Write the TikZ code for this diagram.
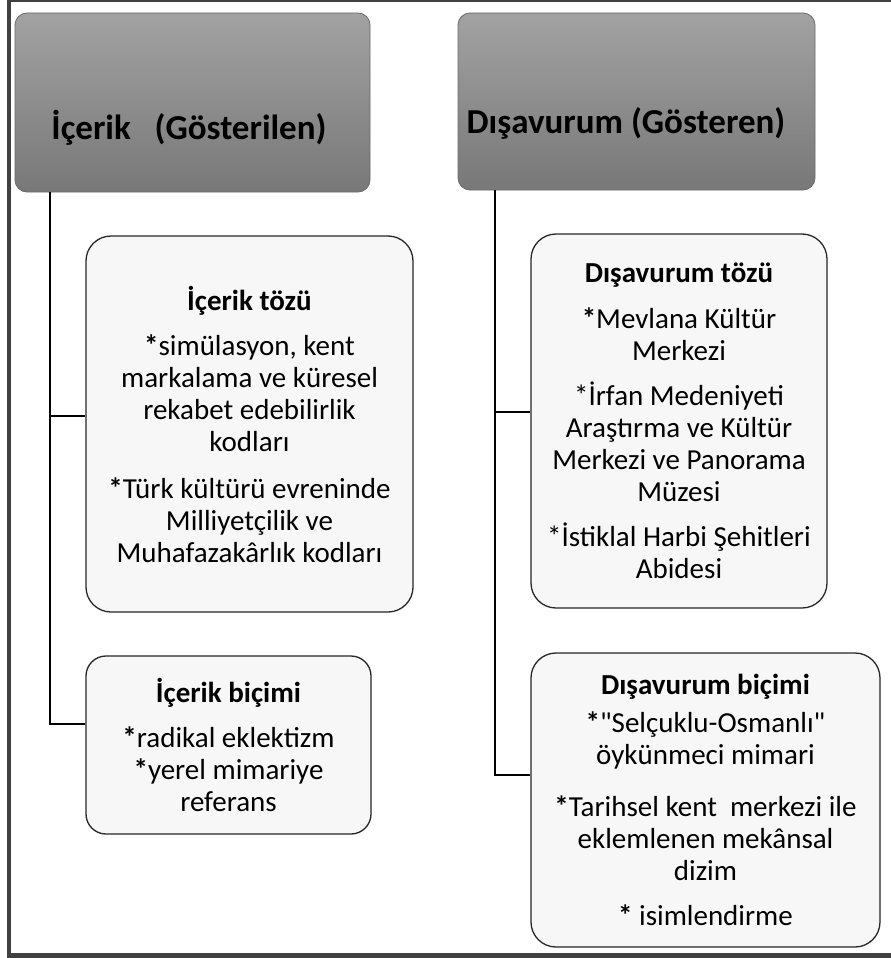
\documentclass[tikz,border=0pt]{standalone}
\usepackage{fontspec}
\setmainfont{Carlito}[Ligatures=TeXOff]
\definecolor{framecol}{HTML}{404040}
\definecolor{hdrtop}{HTML}{A2A2A2}
\definecolor{hdrbot}{HTML}{787878}
\definecolor{hdrline}{HTML}{6A6A6A}
\definecolor{boxfill}{HTML}{F7F7F7}
\definecolor{boxline}{HTML}{262626}
\begin{document}
\begin{tikzpicture}[x=1pt,y=-1pt,
  hdr/.style={draw=hdrline, line width=0.8pt, rounded corners=12pt, top color=hdrtop, bottom color=hdrbot, inner sep=0pt},
  hdrtext/.style={font=\fontsize{35}{40}\selectfont\bfseries, inner sep=0pt},
  cbox/.style={draw=boxline, line width=1.3pt, fill=boxfill, inner sep=0pt, align=center, font=\fontsize{29}{32}\selectfont},
  conn/.style={draw=black, line width=1.9pt}]
\useasboundingbox (0,0) rectangle (891,958);
\begin{scope}
\clip (0,0) rectangle (891,958);
\draw[framecol, line width=4.5pt] (9,0) rectangle (900,955.5);
\end{scope}
% headers
\node[hdr, minimum width=355pt, minimum height=179pt] (h1) at (192.5,102.5) {};
\node[hdrtext] (t1) at (189,128) {İçerik \ \ (Gösterilen)};
\node[hdr, minimum width=357pt, minimum height=177pt] (h2) at (636.5,101.5) {};
\node[hdrtext] (t2) at (626,123) {Dışavurum (Gösteren)};
% content boxes
\node[cbox, rounded corners=25pt, minimum width=327pt, minimum height=376pt] (b1) at (249.5,424)
 {\textbf{İçerik tözü}\\[13pt]
  \textbf{*}simülasyon, kent\\
  markalama ve küresel\\
  rekabet edebilirlik\\
  kodları\\[15pt]
  \textbf{*}Türk kültürü evreninde\\
  Milliyetçilik ve\\
  Muhafazakârlık kodları};
\node[cbox, rounded corners=20pt, minimum width=285pt, minimum height=178pt] (b2) at (228.5,745)
 {\textbf{İçerik biçimi}\\[13pt]
  \textbf{*}radikal eklektizm\\
  \textbf{*}yerel mimariye\\
  referans};
\node[cbox, rounded corners=25pt, minimum width=296pt, minimum height=374pt] (b3) at (679,421)
 {\textbf{Dışavurum tözü}\\[14pt]
  \textbf{*}Mevlana Kültür\\
  Merkezi\\[13pt]
  *İrfan Medeniyeti\\
  Araştırma ve Kültür\\
  Merkezi ve Panorama\\
  Müzesi\\[13pt]
  *İstiklal Harbi Şehitleri\\
  Abidesi};
\node[cbox, rounded corners=25pt, minimum width=349pt, minimum height=294pt] (b4) at (705.5,800)
 {\textbf{Dışavurum biçimi}\\[6pt]
  \textbf{*}"Selçuklu-Osmanlı"\\
  öykünmeci mimari\\[20pt]
  \textbf{*}Tarihsel kent \ merkezi ile\\
  eklemlenen mekânsal\\
  dizim\\[13pt]
  \textbf{*} isimlendirme};
% connectors
\coordinate (lv) at (50,0);
\coordinate (rv) at (495,0);
\path ([yshift=8pt]b1.west) coordinate (b1in);
\path ([yshift=21pt]b2.west) coordinate (b2in);
\path ([yshift=9pt]b3.west) coordinate (b3in);
\path ([yshift=25pt]b4.west) coordinate (b4in);
\draw[conn] (lv |- h1.south) |- (b2in);
\draw[conn] (b1in -| lv) -- (b1in);
\draw[conn] (rv |- h2.south) |- (b4in);
\draw[conn] (b3in -| rv) -- (b3in);
\end{tikzpicture}
\end{document}
